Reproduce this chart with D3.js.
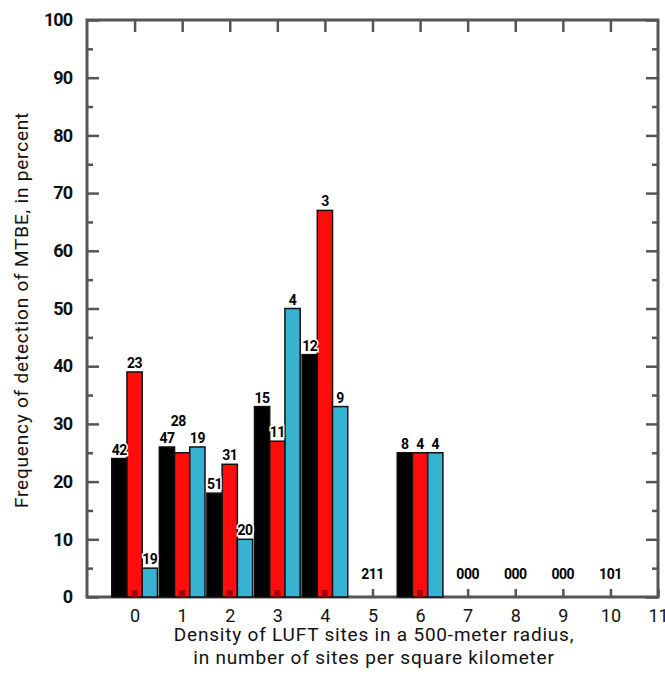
<!DOCTYPE html>
<html>
<head>
<meta charset="utf-8">
<script src="https://cdn.jsdelivr.net/npm/d3@7"></script>
<style>
  body { margin: 0; background: #fff; }
  svg text { font-family: "Roboto", "Liberation Sans", sans-serif; }
</style>
</head>
<body>
<div id="container"></div>
<script>
// categories (LUFT density) and series
var categories = [0, 1, 2, 3, 4, 5, 6, 7, 8, 9, 10]
var studyArea  = [24, 26, 18, 33, 42, 0, 25, 0, 0, 0, 0]
var losAngeles = [39, 25, 23, 27, 67, 0, 25, 0, 0, 0, 0]
var santaAna   = [5, 26, 10, 50, 33, 0, 25, 0, 0, 0, 0]
// number of wells
var wellsStudy = [42, 47, 51, 15, 12, 2, 8, 0, 0, 0, 1]
var wellsLA    = [23, 28, 31, 11, 3, 1, 4, 0, 0, 0, 0]
var wellsSA    = [19, 19, 20, 4, 9, 1, 4, 0, 0, 0, 1]
var xTicks = [0, 1, 2, 3, 4, 5, 6, 7, 8, 9, 10, 11]
var yTicks = [0, 10, 20, 30, 40, 50, 60, 70, 80, 90, 100]
var yMinor = [5, 15, 25, 35, 45, 55, 65, 75, 85, 95]

var ancho = 665, alto = 692
var svg = d3.select("#container").append("svg")
    .attr("width", ancho).attr("height", alto)

var x = d3.scaleLinear().domain([-1, 11]).range([87, 658])
var y = d3.scaleLinear().domain([0, 100]).range([597, 20])
var bw = 0.32
var axisColor = "#555"

// frame and ticks first
svg.append("rect")
  .attr("x", x(-1)).attr("y", y(100))
  .attr("width", x(11) - x(-1)).attr("height", y(0) - y(100))
  .attr("fill", "none").attr("stroke", axisColor).attr("stroke-width", 3)

function drawAxis(axis, tx, ty, fs, fw, ls) {
  var g = svg.append("g").attr("transform", "translate(" + tx + "," + ty + ")").call(axis)
  g.select(".domain").remove()
  g.selectAll(".tick line").attr("stroke", axisColor).attr("stroke-width", 2.5)
  g.selectAll(".tick text").attr("font-size", fs).attr("font-weight", fw)
    .attr("letter-spacing", ls).attr("fill", "#111")
  return g
}
drawAxis(d3.axisLeft(y).tickValues(yTicks).tickSize(-12).tickPadding(15), x(-1), 0, 18, "bold", -1)
drawAxis(d3.axisLeft(y).tickValues(yMinor).tickSize(-6).tickFormat(""), x(-1), 0, 1, "normal", 0)
drawAxis(d3.axisRight(y).tickValues(yTicks).tickSize(-12).tickFormat(""), x(11), 0, 1, "normal", 0)
drawAxis(d3.axisRight(y).tickValues(yMinor).tickSize(-6).tickFormat(""), x(11), 0, 1, "normal", 0)
drawAxis(d3.axisBottom(x).tickValues(xTicks).tickSize(-8).tickPadding(12).tickFormat(d3.format("d")), 0, y(0), 18, "normal", 0)
drawAxis(d3.axisTop(x).tickValues(xTicks.slice(0, 11)).tickSize(-12).tickFormat(""), 0, y(100), 1, "normal", 0)

var series = [
  {vals: studyArea, wells: wellsStudy, color: "#000000", off: -1},
  {vals: losAngeles, wells: wellsLA, color: "#ff0d0d", off: 0},
  {vals: santaAna, wells: wellsSA, color: "#36b2d2", off: 1}
]

// bars
series.forEach(function(s, si) {
  svg.append("g").selectAll("rect")
    .data(categories.filter(function(c, i){ return s.vals[i] > 0 }))
    .enter().append("rect")
    .attr("x", function(c){ return x(c + (s.off - 0.5) * bw) })
    .attr("width", x(bw) - x(0))
    .attr("y", function(c){ return y(s.vals[c]) })
    .attr("height", function(c){ return y(0) - y(s.vals[c]) })
    .attr("fill", s.color)
    .attr("stroke", "#111")
    .attr("stroke-width", 1.5)
  if (si == 1) {
    svg.append("g").selectAll("rect")
      .data(categories.filter(function(c, i){ return s.vals[i] > 0 }))
      .enter().append("rect")
      .attr("x", function(c){ return x(c) - 3 })
      .attr("y", y(0) - 7)
      .attr("width", 6).attr("height", 7)
      .attr("fill", "#a00000")
  }
})

// well-count labels
var labelDy = {"1-1": -23}
series.forEach(function(s, si) {
  svg.append("g").selectAll("text")
    .data(categories.filter(function(c, i){ return s.vals[i] > 0 }))
    .enter().append("text")
    .attr("x", function(c){ return x(c + s.off * bw) + (si == 1 && c == 1 ? -4 : 0) })
    .attr("y", function(c){ return y(s.vals[c]) - 4 + (labelDy[si + "-" + c] || 0) })
    .attr("text-anchor", "middle")
    .attr("font-size", 14).attr("font-weight", "bold").attr("letter-spacing", -0.5)
    .attr("stroke", "#fff").attr("stroke-width", 3).attr("paint-order", "stroke")
    .text(function(c){ return s.wells[c] })
})
svg.append("g").selectAll("text")
  .data(categories.filter(function(c, i){ return studyArea[i] + losAngeles[i] + santaAna[i] == 0 }))
  .enter().append("text")
  .attr("x", function(c){ return x(c) })
  .attr("y", y(0) - 18)
  .attr("text-anchor", "middle")
  .attr("font-size", 14).attr("font-weight", "bold").attr("letter-spacing", -0.5)
  .text(function(c){ return "" + wellsStudy[c] + wellsLA[c] + wellsSA[c] })

// axis titles
svg.append("text")
  .attr("transform", "translate(28,310) rotate(-90)")
  .attr("text-anchor", "middle").attr("font-size", 19).attr("letter-spacing", 0.8).attr("fill", "#111")
  .text("Frequency of detection of MTBE, in percent")
svg.append("text").attr("x", 374).attr("y", 641)
  .attr("text-anchor", "middle").attr("font-size", 19).attr("letter-spacing", 0.8).attr("fill", "#111")
  .text("Density of LUFT sites in a 500-meter radius,")
svg.append("text").attr("x", 374).attr("y", 664)
  .attr("text-anchor", "middle").attr("font-size", 19).attr("letter-spacing", 0.8).attr("fill", "#111")
  .text("in number of sites per square kilometer")
</script>
</body>
</html>
